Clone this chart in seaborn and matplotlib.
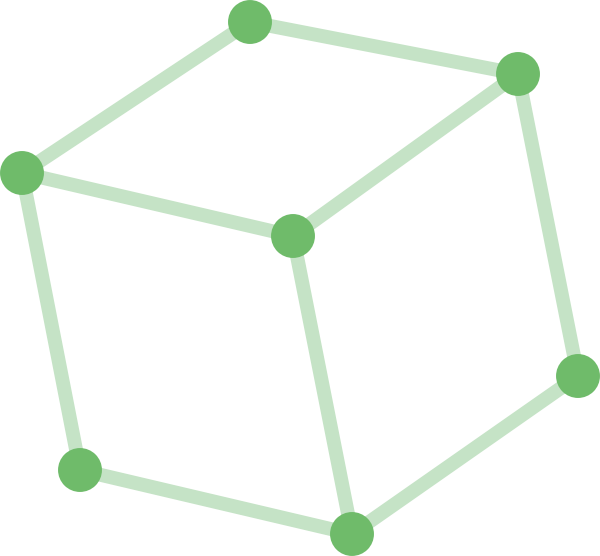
import pandas as pd
import seaborn as sns
import matplotlib.pyplot as plt

# node positions
node_names = ["A", "B", "C", "D", "E", "F", "G"]
node_x = [250, 518, 22, 293, 578, 80, 352]
node_y = [22, 74, 173, 236, 376, 470, 534]

# cube edges
edge_from = ["A", "A", "C", "D", "B", "E", "G", "G", "F"]
edge_to = ["B", "C", "D", "B", "E", "G", "D", "F", "C"]

nodes = pd.DataFrame({"name": node_names, "x": node_x, "y": node_y}).set_index("name")

rows = []
for i, (a, b) in enumerate(zip(edge_from, edge_to)):
    for n in (a, b):
        rows.append({"edge": i, "x": nodes.loc[n, "x"], "y": nodes.loc[n, "y"]})
edges = pd.DataFrame(rows)

fig = plt.figure(figsize=(6, 5.56), dpi=100)
ax = fig.add_axes([0, 0, 1, 1])

sns.lineplot(data=edges, x="x", y="y", units="edge", estimator=None, sort=False,
             color="#c5e3c6", linewidth=10, solid_capstyle="butt", ax=ax, legend=False)
sns.scatterplot(data=nodes.reset_index(), x="x", y="y", s=1000, color="#6fbb6a",
                edgecolor="none", ax=ax, legend=False, zorder=3)

ax.set_xlim(0, 600)
ax.set_ylim(556, 0)
ax.axis("off")
fig.savefig("out.png", dpi=100)
